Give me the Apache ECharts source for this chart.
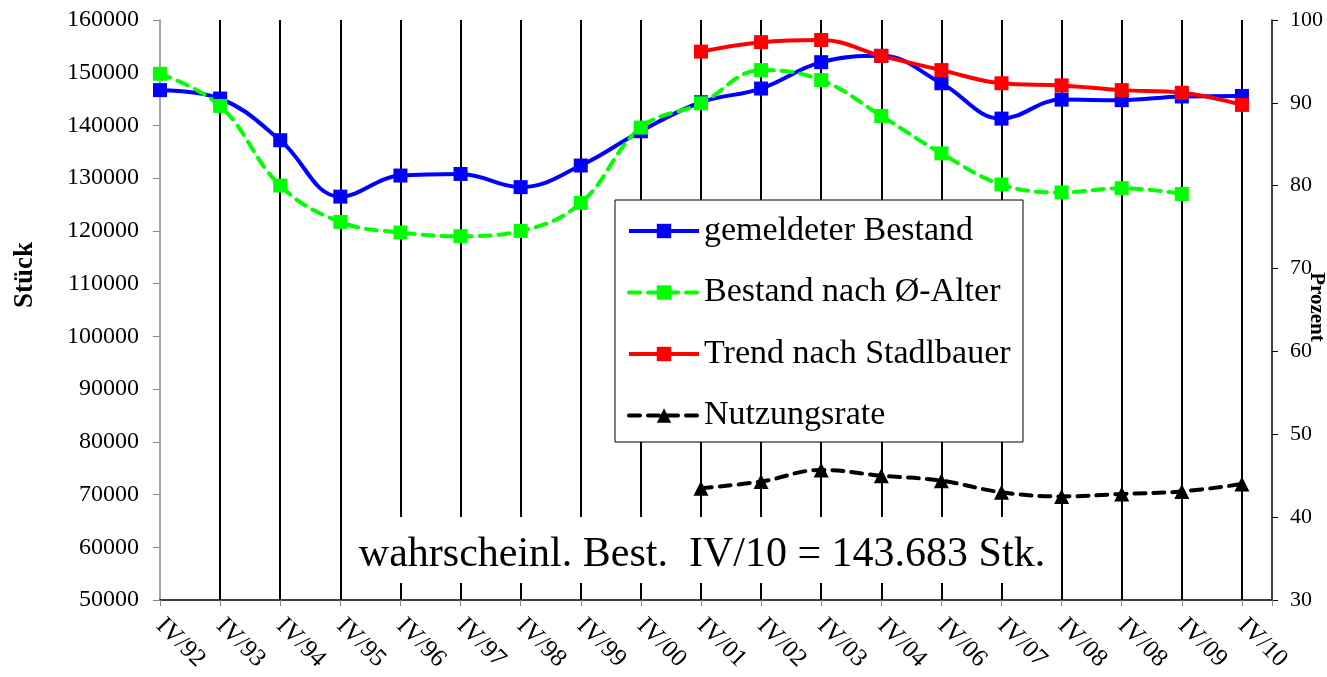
<!DOCTYPE html>
<html>
<head>
<meta charset="utf-8">
<script src="https://cdn.jsdelivr.net/npm/echarts@6/dist/echarts.min.js"></script>
<style>html,body{margin:0;padding:0;background:#fff;}#c{width:1327px;height:677px;}</style>
</head>
<body>
<div id="c"></div>
<script>
var categories = ['IV/92','IV/93','IV/94','IV/95','IV/96','IV/97','IV/98','IV/99','IV/00','IV/01','IV/02','IV/03','IV/04','IV/06','IV/07','IV/08','IV/08','IV/09','IV/10'];
var gemeldeterBestand = [146700,145100,137200,126500,130500,130800,128300,132400,138900,144400,147000,152000,153200,148000,141300,144900,144800,145500,145600];
var bestandNachAlter = [149800,143700,128600,121700,119700,119000,120000,125300,139600,144200,150500,148600,141800,134700,128800,127300,128100,127000,null];
var trendStadlbauer = [null,null,null,null,null,null,null,null,null,154000,155800,156200,153200,150500,148000,147600,146700,146200,143900];
var nutzungsrate = [null,null,null,null,null,null,null,null,null,43.5,44.3,45.7,45.0,44.4,43.0,42.5,42.8,43.1,44.0];
var leftTicks = {min:50000, max:160000, interval:10000};
var rightTicks = {min:30, max:100, interval:10};
var annotation = 'wahrscheinl. Best.  IV/10 = 143.683 Stk.';

function pairs(arr){ var out=[]; for(var i=0;i<arr.length;i++){ if(arr[i]!==null) out.push([i, arr[i]]); } return out; }
var FF = "'Liberation Serif','Times New Roman',serif";

var chart = echarts.init(document.getElementById('c'), null, {renderer:'canvas'});
chart.setOption({
  animation:false,
  backgroundColor:'#fff',
  textStyle:{fontFamily:FF},
  grid:{left:160, right:55, top:20, bottom:77, containLabel:false},
  xAxis:{
    type:'value', min:0, max:categories.length-0.5, interval:1,
    axisLine:{show:true, onZero:false, lineStyle:{color:'#000', width:1.5}},
    axisTick:{show:true, length:6, lineStyle:{color:'#888', width:1}},
    splitLine:{show:true, showMinLine:false, showMaxLine:false, lineStyle:{color:'#000', width:2}},
    axisLabel:{rotate:-45, fontSize:25, color:'#000', fontFamily:FF, margin:22,
      showMinLabel:true, showMaxLabel:true,
      formatter:function(v){ return (Math.round(v)===v && categories[v]!==undefined) ? categories[v] : ''; }}
  },
  yAxis:[
    {type:'value', position:'left', min:leftTicks.min, max:leftTicks.max, interval:leftTicks.interval,
     axisLine:{show:true, lineStyle:{color:'#888', width:1.5}},
     axisTick:{show:true, length:7, lineStyle:{color:'#888'}},
     splitLine:{show:false},
     axisLabel:{fontSize:24, color:'#000', fontFamily:FF, margin:21, formatter:function(v){return String(v);}}},
    {type:'value', position:'right', min:rightTicks.min, max:rightTicks.max, interval:rightTicks.interval,
     axisLine:{show:true, lineStyle:{color:'#000', width:1.5}},
     axisTick:{show:true, length:6, lineStyle:{color:'#000'}},
     splitLine:{show:false},
     axisLabel:{fontSize:22, color:'#000', fontFamily:FF, margin:18, formatter:function(v){return String(v);}}}
  ],
  legend:{
    orient:'vertical', left:627, top:214, padding:0, itemGap:27.5,
    itemWidth:70, itemHeight:18,
    lineStyle:{width:4},
    textStyle:{fontSize:34, color:'#000', fontFamily:FF},
    data:['gemeldeter Bestand','Bestand nach Ø-Alter','Trend nach Stadlbauer','Nutzungsrate']
  },
  graphic:[
    {type:'rect', z:3, shape:{x:615, y:200, width:408, height:242}, style:{fill:'#fff', stroke:'#000', lineWidth:1}},
    {type:'rect', z:3, shape:{x:346, y:517, width:708, height:66}, style:{fill:'#fff'}},
    {type:'text', z:5, x:702, y:555, style:{text:annotation, font:"42px 'Liberation Serif','Times New Roman',serif", fill:'#000', textAlign:'center', textVerticalAlign:'middle'}},
    {type:'text', z:5, x:25, y:275, rotation:Math.PI/2, style:{text:'Stück', font:"bold 27px 'Liberation Serif','Times New Roman',serif", fill:'#000', textAlign:'center', textVerticalAlign:'middle'}},
    {type:'text', z:5, x:1316, y:307, rotation:-Math.PI/2, style:{text:'Prozent', font:"bold 21px 'Liberation Serif','Times New Roman',serif", fill:'#000', textAlign:'center', textVerticalAlign:'middle'}}
  ],
  series:[
    {name:'gemeldeter Bestand', type:'line', yAxisIndex:0, smooth:0.4, data:pairs(gemeldeterBestand),
     symbol:'rect', symbolSize:14, lineStyle:{color:'#0000ff', width:4}, itemStyle:{color:'#0000ff'}},
    {name:'Bestand nach Ø-Alter', type:'line', yAxisIndex:0, smooth:0.4, data:pairs(bestandNachAlter),
     symbol:'rect', symbolSize:14, lineStyle:{color:'#00ff00', width:4, type:[11,8], cap:'round'}, itemStyle:{color:'#00ff00'}},
    {name:'Trend nach Stadlbauer', type:'line', yAxisIndex:0, smooth:0.4, data:pairs(trendStadlbauer),
     symbol:'rect', symbolSize:14, lineStyle:{color:'#ff0000', width:4}, itemStyle:{color:'#ff0000'}},
    {name:'Nutzungsrate', type:'line', yAxisIndex:1, smooth:0.4, data:pairs(nutzungsrate),
     symbol:'triangle', symbolSize:15, lineStyle:{color:'#000', width:4, type:[11,8], cap:'round'}, itemStyle:{color:'#000'}}
  ]
});
</script>
</body>
</html>
